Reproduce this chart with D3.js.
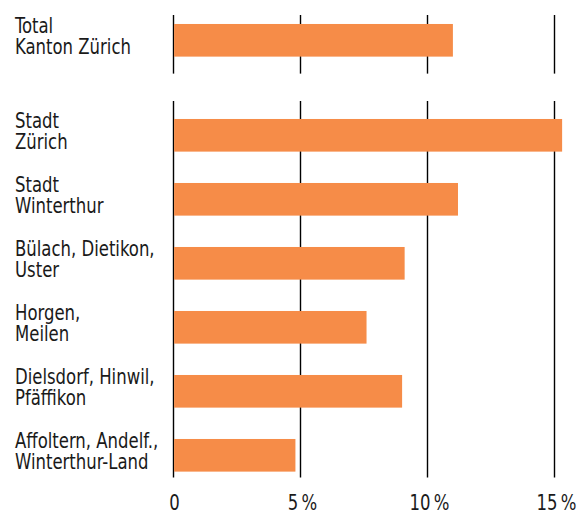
<!DOCTYPE html>
<html><head><meta charset="utf-8">
<script src="https://cdn.jsdelivr.net/npm/d3@7"></script>
<style>
html,body{margin:0;padding:0;background:#fff;}
text{font-family:"DejaVu Sans Condensed","DejaVu Sans",sans-serif;fill:#1a1a1a;}
</style></head>
<body>
<svg id="chart" width="578" height="513"></svg>
<script>
const categories = ["Total Kanton Zürich","Stadt Zürich","Stadt Winterthur","Bülach, Dietikon, Uster","Horgen, Meilen","Dielsdorf, Hinwil, Pfäffikon","Affoltern, Andelf., Winterthur-Land"];
const labelLines = [["Total","Kanton Zürich"],["Stadt","Zürich"],["Stadt","Winterthur"],["Bülach, Dietikon,","Uster"],["Horgen,","Meilen"],["Dielsdorf, Hinwil,","Pfäffikon"],["Affoltern, Andelf.,","Winterthur-Land"]];
const values = [11.0, 15.3, 11.2, 9.1, 7.6, 9.0, 4.8];
const tickValues = [0, 5, 10, 15];
const tickLabels = ["0", "5\u202F%", "10\u202F%", "15\u202F%"];

const svg = d3.select("#chart");
const x = d3.scaleLinear().domain([0, 15]).range([173.5, 554.5]);
const y = d3.scaleBand().domain(categories).range([39.3, 39.3 + 7 * 64]).paddingInner(0.49).paddingOuter(0.245);
const shift = i => i === 0 ? -31 : 0;
const bw = y.bandwidth();
const yy = (c, i) => y(c) + shift(i);

const FS = 20.5;
// horizontal compression to mimic the condensed DIN-like face
const probe = svg.append("text").attr("font-size", FS + "px").text("Kanton Zürich");
const sx = 116 / probe.node().getComputedTextLength();
probe.remove();

// gridline segments for the two groups
const first = categories[0], rest = categories.slice(1);
const segs = [
  [yy(first, 0) - 9, yy(first, 0) + bw + 17],
  [y(rest[0]) - 18, y(rest[rest.length - 1]) + bw + 6]
];
const g = svg.append("g");
segs.forEach(s => {
  g.selectAll(null).data(tickValues).enter().append("line")
    .attr("x1", d => x(d)).attr("x2", d => x(d))
    .attr("y1", s[0]).attr("y2", s[1])
    .attr("stroke", "#000").attr("stroke-width", 1.4);
});

svg.append("g").selectAll("rect").data(values).enter().append("rect")
  .attr("x", x(0) + 0.6)
  .attr("y", (d, i) => yy(categories[i], i))
  .attr("width", d => x(d) - x(0) - 0.6)
  .attr("height", bw)
  .attr("fill", "#F68C48");

const labG = svg.append("g").attr("transform", `translate(15,0) scale(${sx},1)`);
categories.forEach((c, i) => {
  const cy = yy(c, i) + bw / 2;
  labG.selectAll(null).data(labelLines[i]).enter().append("text")
    .attr("x", 0)
    .attr("y", (d, j) => cy - 7 + j * 20.5)
    .attr("font-size", FS + "px")
    .text(d => d);
});

const tickG = svg.append("g");
tickValues.forEach((d, i) => {
  tickG.append("text")
    .attr("transform", `translate(${x(d) + (d === 0 ? 1 : 2)},510) scale(${sx},1)`)
    .attr("text-anchor", "middle")
    .attr("font-size", FS + "px")
    .text(tickLabels[i]);
});
</script>
</body></html>
